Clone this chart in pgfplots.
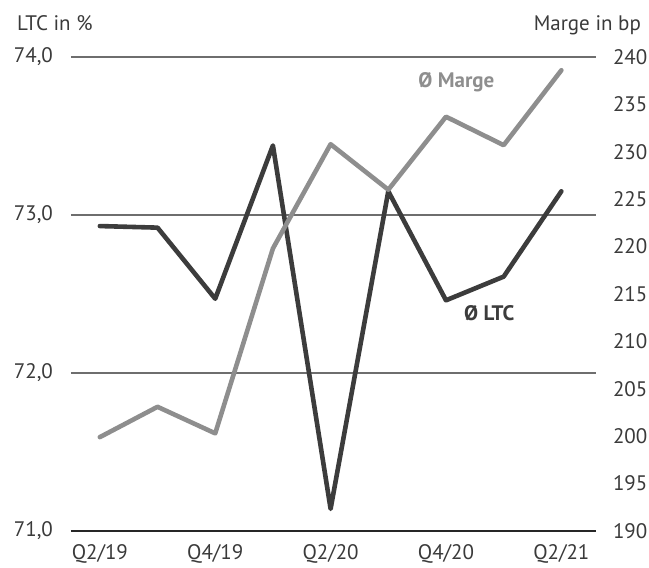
\documentclass[border=0pt]{standalone}
\usepackage{pgfplots}
\pgfplotsset{compat=1.18}
\usepackage{fontspec}
\setmainfont{PT Sans}

\definecolor{ltcdark}{HTML}{3C3C3C}
\definecolor{margegray}{HTML}{8E8E8E}
\definecolor{gridgray}{HTML}{6E6E6E}
\definecolor{axisdark}{HTML}{262626}
\definecolor{labeltext}{HTML}{3A3A3A}

% Quarterly averages, Q2/19 ... Q2/21 (x = 0 ... 8)
\pgfplotstableread{
x  ltc
0  72.93
1  72.92
2  72.47
3  73.44
4  71.14
5  73.15
6  72.46
7  72.61
8  73.15
}\ltcdata
\pgfplotstableread{
x  marge
0  199.9
1  203.1
2  200.3
3  219.8
4  230.8
5  226.0
6  233.7
7  230.7
8  238.6
}\margedata

\pgfplotsset{
  twin/.style={
    scale only axis,
    width=262.5pt, height=237pt,
    xmin=-0.5, xmax=8.6,
    xtick={0,2,4,6,8},
    xticklabels={Q2/19,Q4/19,Q2/20,Q4/20,Q2/21},
    major tick length=0pt,
    tick style={draw=none},
    /pgf/number format/assume math mode=true,
    tick label style={text=labeltext, font=\fontsize{10.5}{12}\selectfont},
    xticklabel style={yshift=-3pt},
    y axis line style={draw=none},
    clip=false,
  },
}

\begin{document}
\begin{tikzpicture}[font=\fontsize{10.5}{12}\selectfont]
\useasboundingbox (-35.5pt,-18.5pt) rectangle (289pt,265.5pt);

% left axis: LTC in %
\begin{axis}[twin,
  axis x line*=bottom, axis y line*=left,
  x axis line style={-, draw=axisdark, line width=1pt},
  ymin=71, ymax=74, ytick={71,72,73,74},
  ymajorgrids, grid style={draw=gridgray, line width=0.55pt},
  yticklabel style={xshift=-5.5pt,
    /pgf/number format/.cd, fixed, fixed zerofill, precision=1, use comma},
]
\addplot[ltcdark, line width=2.3pt, line join=round, line cap=round]
  table[x=x, y=ltc] {\ltcdata};
\node[text=ltcdark, font=\fontsize{10.5}{12}\selectfont\bfseries]
  at (axis cs:6.75,72.38) {Ø LTC};
\end{axis}

% right axis: Marge in bp
\begin{axis}[twin,
  axis x line=none, axis y line*=right,
  ymin=190, ymax=240, ytick={190,195,...,240},
  yticklabel style={xshift=5pt},
]
\addplot[margegray, line width=2.3pt, line join=round, line cap=round]
  table[x=x, y=marge] {\margedata};
\node[text=margegray, font=\fontsize{10.5}{12}\selectfont\bfseries]
  at (axis cs:6.18,237.36) {Ø Marge};
\end{axis}

\node[anchor=base west, text=labeltext] at (-30.5pt,250pt) {LTC in \%};
\node[anchor=base east, text=labeltext] at (288.5pt,250pt) {Marge in bp};
\end{tikzpicture}
\end{document}
